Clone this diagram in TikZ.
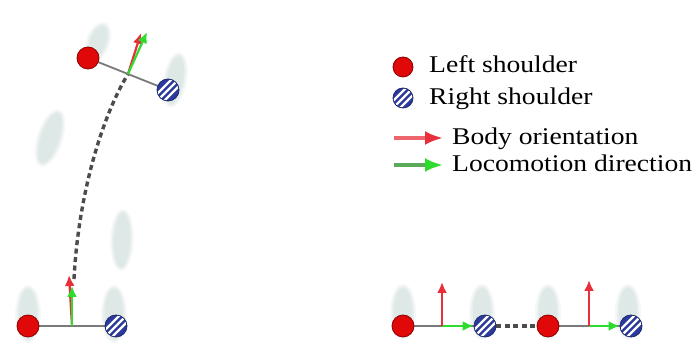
\documentclass[tikz,border=0pt]{standalone}
\usepackage{fontspec}
\setmainfont{Liberation Serif}
\usetikzlibrary{arrows.meta,backgrounds}
\definecolor{foot}{HTML}{DEE8E6}
\definecolor{shred}{HTML}{E00808}
\definecolor{shblue}{HTML}{2B3A9C}
\definecolor{arrred}{HTML}{E8303C}
\definecolor{arrgreen}{HTML}{2EDC2E}
\definecolor{linegray}{HTML}{7A7A7A}
\definecolor{dashgray}{HTML}{4C4C4C}
\newcommand\widetext[1]{\scalebox{1.15}[1]{#1}}
\tikzset{
  lsh/.style={circle, minimum size=22pt, inner sep=0pt, fill=shred, draw=red!55!black, line width=0.8pt},
  rsh/.style={circle, minimum size=22pt, inner sep=0pt, fill=shblue, draw=shblue!70!black, line width=0.8pt,
    path picture={\foreach \k in {-7pt,0pt,7pt}{\draw[white, line width=2.2pt] ([xshift=\k]path picture bounding box.center) ++(-12pt,-12pt) -- ++(24pt,24pt);}}},
  shline/.style={draw=linegray, line width=1.8pt},
  bodyarr/.style={draw=arrred, line width=2.2pt, -{Latex[length=11pt,width=10pt]}},
  locoarr/.style={draw=arrgreen, line width=2.2pt, -{Latex[length=11pt,width=10pt]}},
  trail/.style={draw=dashgray, line width=3.4pt, dash pattern=on 5pt off 3.5pt},
  legtext/.style={anchor=base west, inner sep=0pt, font=\fontsize{24}{28}\selectfont},
  foothalo/.style={fill=foot, fill opacity=0.3},
  footsoft/.style={fill=foot, fill opacity=0.55},
  footcore/.style={fill=foot}
}
\begin{document}
\begin{tikzpicture}[x=1pt,y=-1pt]
\useasboundingbox (0,0) rectangle (697,352);
% shoulders
\node[lsh] (l1) at (28,326) {};
\node[rsh] (r1) at (116,326) {};
\node[lsh] (l2) at (88,58) {};
\node[rsh] (r2) at (168,90) {};
\node[lsh] (l3) at (403,326) {};
\node[rsh] (r3) at (485,326) {};
\node[lsh] (l4) at (548,326) {};
\node[rsh] (r4) at (631,326) {};
% coordinates
\coordinate (c1) at (72,326);
\coordinate (o1) at (69,275);
\coordinate (g1) at (72,286);
\coordinate (t1) at (74,279);
\coordinate (c2) at (128,74);
\coordinate (o2) at (141,33);
\coordinate (g2) at (147,32);
\coordinate (c3) at (442,326);
\coordinate (o3) at (442,282);
\coordinate (c4) at (589,326);
\coordinate (o4) at (589,280);
\begin{scope}[on background layer]
  % footprints
  \foreach \x/\y/\rx/\ry/\r in {98/42/8/17/-20, 175/80/8/24/-10, 50/138/9/26/-18, 122/240/8/27/-2,
      28/314/9/25/0, 114/314/9/25/0, 403/312/9/24/0, 482/312/9/24/0, 548/312/9/24/0, 628/312/9/24/0}{
    \fill[foothalo] (\x,\y) ellipse [x radius=\rx+4, y radius=\ry+4, rotate=\r];
    \fill[footsoft] (\x,\y) ellipse [x radius=\rx+2, y radius=\ry+2, rotate=\r];
    \fill[footcore] (\x,\y) ellipse [x radius=\rx, y radius=\ry, rotate=\r];
  }
  % trails
  \draw[trail] (t1) .. controls (78,200) and (100,120) .. (c2);
  \draw[trail] (r3) -- (l4);
  % shoulder lines
  \draw[shline] (l1) -- (r1);
  \draw[shline] (l2) -- (r2);
  \draw[shline] (l3) -- (r3);
  \draw[shline] (l4) -- (r4);
  % arrows
  \draw[bodyarr] (c1) -- (o1);
  \draw[locoarr] (c1) -- (g1);
  \draw[bodyarr] (c2) -- (o2);
  \draw[locoarr] (c2) -- (g2);
  \draw[locoarr] (c3) -- (r3);
  \draw[bodyarr] (c3) -- (o3);
  \draw[locoarr] (c4) -- (r4);
  \draw[bodyarr] (c4) -- (o4);
\end{scope}
% legend
\node[lsh, minimum size=20pt] (kl) at (403,67) {};
\node[rsh, minimum size=20pt] (kr) at (403,98) {};
\node[legtext] (tl) at (429,73) {\widetext{Left shoulder}};
\node[legtext] (tr) at (429,105) {\widetext{Right shoulder}};
\coordinate (ka1) at (394,138);
\coordinate (kb1) at (443,138);
\coordinate (ka2) at (394,165);
\coordinate (kb2) at (443,165);
\draw[draw=arrred!75!white, line width=3.5pt, -{Latex[length=18pt,width=14pt,color=arrred]}] (ka1) -- (kb1);
\draw[draw=arrgreen!45!gray, line width=3.5pt, -{Latex[length=18pt,width=14pt,color=arrgreen]}] (ka2) -- (kb2);
\node[legtext] (tb) at (452,145) {\widetext{Body orientation}};
\node[legtext] (tg) at (452,172) {\widetext{Locomotion direction}};
\end{tikzpicture}
\end{document}
